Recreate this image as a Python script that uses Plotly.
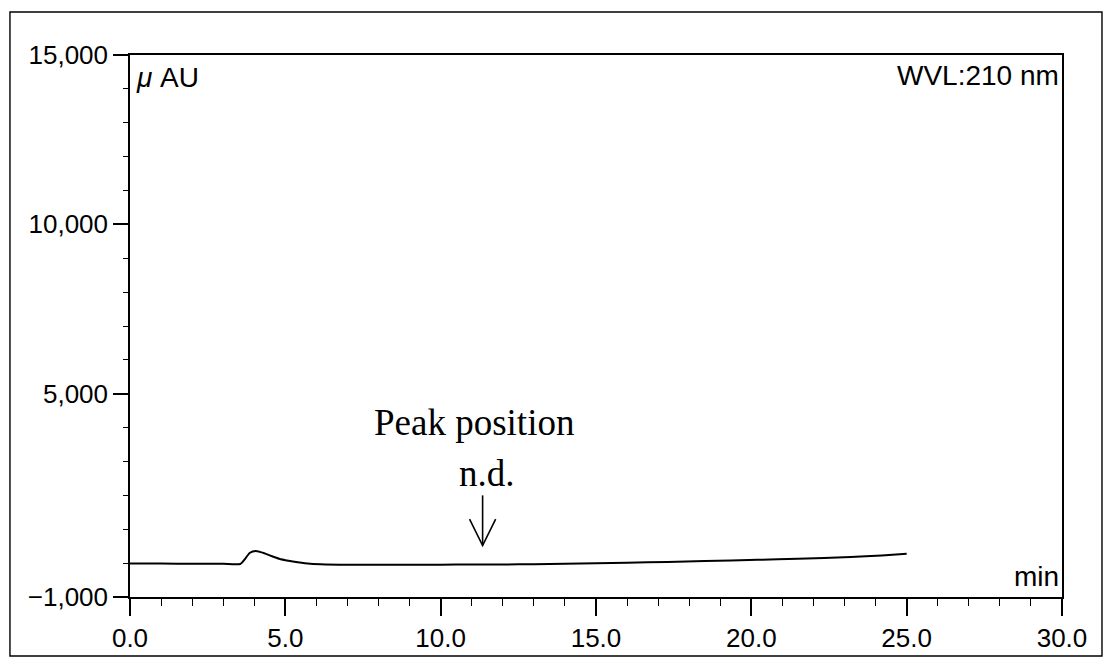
import plotly.graph_objects as go

# Chromatogram trace (retention time in minutes, detector response in µAU)
time_min = [0, 1, 2, 3, 3.55, 3.7, 3.85, 4.05, 4.3, 4.55, 4.8, 5.1, 5.4, 5.8,
            6.3, 7.0, 8.6, 10, 11, 12, 13, 14, 15, 16, 17.3, 18.5, 20.2, 21.5,
            23.2, 24.2, 25]
signal_uau = [-10, -12, -18, -22, -25, 120, 300, 360, 300, 210, 130, 70, 25, -20,
              -40, -45, -45, -45, -42, -38, -33, -20, -5, 10, 36, 60, 98, 130,
              180, 225, 275]

# Axis labelling
y_tick_vals = [-1000, 5000, 10000, 15000]
y_tick_text = ["\u22121,000", "5,000", "10,000", "15,000"]
x_range = [0, 30]
y_range = [-1000, 15000]

# Expected peak position marker (not detected)
peak_rt = 11.35
arrow_top = 2000
arrow_tip = 520

FONT = "Liberation Sans, Arial, Helvetica, sans-serif"
SERIF = "Liberation Serif, Times New Roman, serif"

fig = go.Figure(
    go.Scatter(
        x=time_min,
        y=signal_uau,
        mode="lines",
        line=dict(color="black", width=2, shape="spline", smoothing=0.6),
        hoverinfo="skip",
    )
)

axis_common = dict(
    showline=True,
    linecolor="black",
    linewidth=1.5,
    mirror=True,
    ticks="outside",
    tickcolor="black",
    tickwidth=1.5,
    showgrid=False,
    zeroline=False,
    tickfont=dict(family=FONT, size=26, color="black"),
)

fig.update_xaxes(
    **axis_common,
    range=x_range,
    tick0=0,
    dtick=5,
    tickformat=".1f",
    ticklen=17,
    minor=dict(ticks="outside", ticklen=7, tickwidth=1.2, tickcolor="black",
               tickmode="linear", tick0=0, dtick=1, showgrid=False),
)
fig.update_yaxes(
    **axis_common,
    range=y_range,
    tickmode="array",
    tickvals=y_tick_vals,
    ticktext=y_tick_text,
    ticklen=15,
    minor=dict(ticks="outside", ticklen=5, tickwidth=1.2, tickcolor="black",
               tickmode="linear", tick0=0, dtick=1000, showgrid=False),
)

# Arrow pointing at the expected retention time
head_dx = 0.42
head_dy = 780
fig.add_shape(type="line", xref="x", yref="y",
              x0=peak_rt, x1=peak_rt, y0=arrow_top, y1=arrow_tip,
              line=dict(color="black", width=1.6))
fig.add_shape(type="path", xref="x", yref="y",
              path=(f"M {peak_rt - head_dx},{arrow_tip + head_dy} "
                    f"L {peak_rt},{arrow_tip} "
                    f"L {peak_rt + head_dx},{arrow_tip + head_dy}"),
              line=dict(color="black", width=1.6))

# Outer printout frame
fig.add_shape(type="rect", xref="paper", yref="paper",
              x0=-0.1288, x1=1.0429, y0=-0.1089, y1=1.0793,
              line=dict(color="black", width=1.4), layer="below")

annotations = [
    dict(text="<i>\u03bc</i> AU", xref="paper", yref="paper", x=0.004, y=0.99,
         xanchor="left", yanchor="top", showarrow=False,
         font=dict(family=FONT, size=28, color="black")),
    dict(text="WVL:210 nm", xref="paper", yref="paper", x=0.999, y=0.994,
         xanchor="right", yanchor="top", showarrow=False,
         font=dict(family=FONT, size=28, color="black")),
    dict(text="min", xref="paper", yref="paper", x=0.999, y=0.006,
         xanchor="right", yanchor="bottom", showarrow=False,
         font=dict(family=FONT, size=28, color="black")),
    dict(text="Peak position", xref="x", yref="y", x=11.07, y=4150,
         xanchor="center", yanchor="middle", showarrow=False,
         font=dict(family=SERIF, size=37, color="black")),
    dict(text="n.d.", xref="x", yref="y", x=11.49, y=2640,
         xanchor="center", yanchor="middle", showarrow=False,
         font=dict(family=SERIF, size=37, color="black")),
]

fig.update_layout(
    width=1104,
    height=664,
    margin=dict(l=130, r=42, t=55, b=67),
    paper_bgcolor="white",
    plot_bgcolor="white",
    showlegend=False,
    annotations=annotations,
)

fig.write_html("out.html")
